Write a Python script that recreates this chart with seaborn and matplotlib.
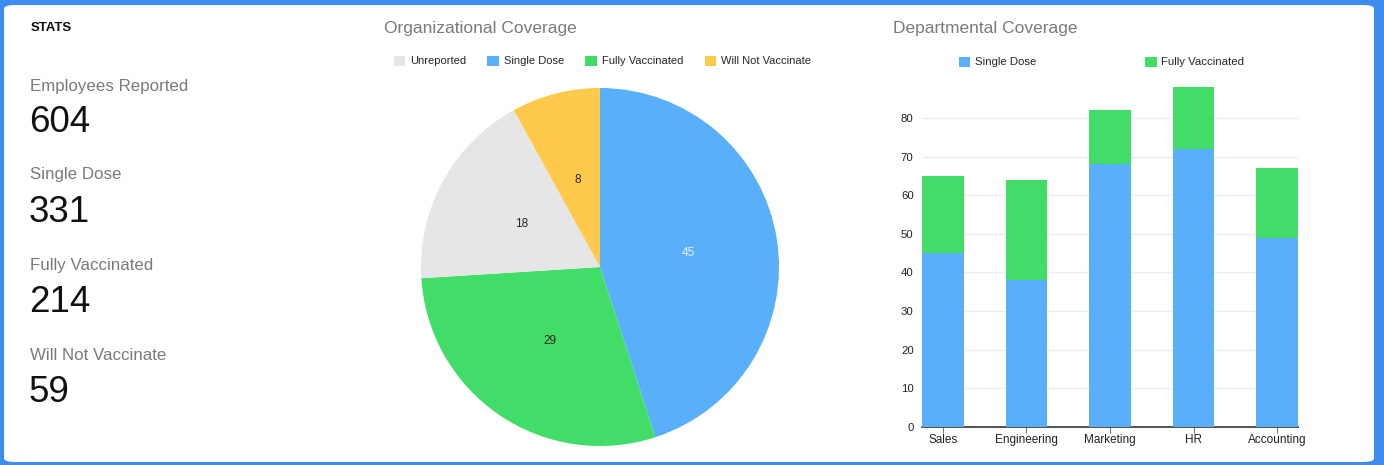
import matplotlib.pyplot as plt
import pandas as pd
import seaborn as sns
from matplotlib.patches import FancyBboxPatch, Patch

# ---------------------------------------------------------------------------
# data
# ---------------------------------------------------------------------------
stat_labels = ["Employees Reported", "Single Dose", "Fully Vaccinated", "Will Not Vaccinate"]
stat_values = ["604", "331", "214", "59"]

pie_labels = ["Single Dose", "Fully Vaccinated", "Unreported", "Will Not Vaccinate"]
pie_values = [45, 29, 18, 8]
legend_order = ["Unreported", "Single Dose", "Fully Vaccinated", "Will Not Vaccinate"]

departments = ["Sales", "Engineering", "Marketing", "HR", "Accounting"]
single_dose = [45, 38, 68, 72, 49]
fully_vaccinated = [20, 26, 14, 16, 18]

COLORS = {
    "Unreported": "#E6E6E6",
    "Single Dose": "#5AAFFB",
    "Fully Vaccinated": "#41DD68",
    "Will Not Vaccinate": "#FFC94C",
}
TITLE_GRAY = "#7A7A7A"

sns.set_theme(style="white")
plt.rcParams["font.family"] = ["Liberation Sans", "DejaVu Sans"]

W, H = 1384, 465
fig = plt.figure(figsize=(W / 100, H / 100), dpi=100)
fig.patch.set_facecolor("#3D8BEF")

# white card with rounded corners, kept behind the axes
card = FancyBboxPatch((4 / W, 3 / H), 1370 / W, 457 / H,
                      boxstyle="round,pad=0,rounding_size=0.008",
                      transform=fig.transFigure, facecolor="white",
                      edgecolor="none", zorder=-5)
fig.patches.append(card)


def fx(px):
    return px / W


def fy(py):
    return 1 - py / H


# ---------------------------------------------------------------------------
# stats panel
# ---------------------------------------------------------------------------
fig.text(fx(31), fy(28), "STATS", fontsize=9.5, fontweight="bold",
         color="#111111", va="center")
label_y = [86, 175, 265, 355]
for lab, val, y in zip(stat_labels, stat_values, label_y):
    fig.text(fx(30), fy(y), lab, fontsize=12.2, color=TITLE_GRAY, va="center")
    fig.text(fx(29), fy(y + 37), val, fontsize=26.5, color="#111111", va="center")

# ---------------------------------------------------------------------------
# organizational coverage pie
# ---------------------------------------------------------------------------
fig.text(fx(384), fy(28), "Organizational Coverage", fontsize=12.5,
         color=TITLE_GRAY, va="center")
r = 179
ax_pie = fig.add_axes([fx(600 - r), fy(267 + r), fx(2 * r), 2 * r / H])
wedges, texts = ax_pie.pie(
    pie_values,
    labels=[str(v) for v in pie_values],
    colors=[COLORS[k] for k in pie_labels],
    startangle=90,
    counterclock=False,
    labeldistance=0.5,
    wedgeprops={"linewidth": 0, "edgecolor": "none"},
    textprops={"fontsize": 8.5},
)
for t in texts:
    t.set_ha("center")
    t.set_va("center")
texts[0].set_color("#EAF4FF")
ax_pie.set_xlim(-1, 1)
ax_pie.set_ylim(-1, 1)
ax_pie.set_aspect("equal")

pie_handles = [Patch(facecolor=COLORS[k], edgecolor="none") for k in legend_order]
fig.legend(pie_handles, legend_order, loc="center left",
           bbox_to_anchor=(fx(388), fy(61)), ncol=4, frameon=False,
           fontsize=8.0, handlelength=1.0, handleheight=1.0,
           handletextpad=0.45, columnspacing=1.95, borderpad=0)

# ---------------------------------------------------------------------------
# departmental coverage stacked bars
# ---------------------------------------------------------------------------
fig.text(fx(893), fy(28), "Departmental Coverage", fontsize=12.5,
         color=TITLE_GRAY, va="center")

df = pd.DataFrame({
    "department": departments,
    "single": single_dose,
    "full": fully_vaccinated,
})
df["total"] = df["single"] + df["full"]

ax_bar = fig.add_axes([fx(922), fy(427), fx(1298 - 922), (427 - 87) / H])
sns.barplot(data=df, x="department", y="total", color=COLORS["Fully Vaccinated"],
            width=0.5, saturation=1, linewidth=0, ax=ax_bar, zorder=2)
sns.barplot(data=df, x="department", y="single", color=COLORS["Single Dose"],
            width=0.5, saturation=1, linewidth=0, ax=ax_bar, zorder=3)
ax_bar.set_xlim(-0.25, 4.25)
ax_bar.set_ylim(0, 88)
ax_bar.set_yticks(range(0, 90, 10))
ax_bar.set_xlabel("")
ax_bar.set_ylabel("")
ax_bar.yaxis.grid(True, color="#EEEEEE", linewidth=1, zorder=0)
ax_bar.set_axisbelow(True)
for side in ["top", "right", "left"]:
    ax_bar.spines[side].set_visible(False)
ax_bar.spines["bottom"].set_color("#333333")
ax_bar.spines["bottom"].set_linewidth(1.2)
ax_bar.tick_params(axis="y", length=0, pad=6, labelsize=8.2, labelcolor="#222222")
ax_bar.tick_params(axis="x", bottom=True, length=4, width=0.8, color="#777777",
                   pad=1, labelsize=8.5, labelcolor="#222222")

bar_handles = [Patch(facecolor=COLORS["Single Dose"], edgecolor="none"),
               Patch(facecolor=COLORS["Fully Vaccinated"], edgecolor="none")]
fig.legend(bar_handles, ["Single Dose", "Fully Vaccinated"], loc="center left",
           bbox_to_anchor=(fx(953), fy(62)), ncol=2, frameon=False,
           fontsize=8.2, handlelength=1.0, handleheight=1.0,
           handletextpad=0.4, columnspacing=9.6, borderpad=0)

fig.savefig("out.png", dpi=100, facecolor=fig.get_facecolor())
